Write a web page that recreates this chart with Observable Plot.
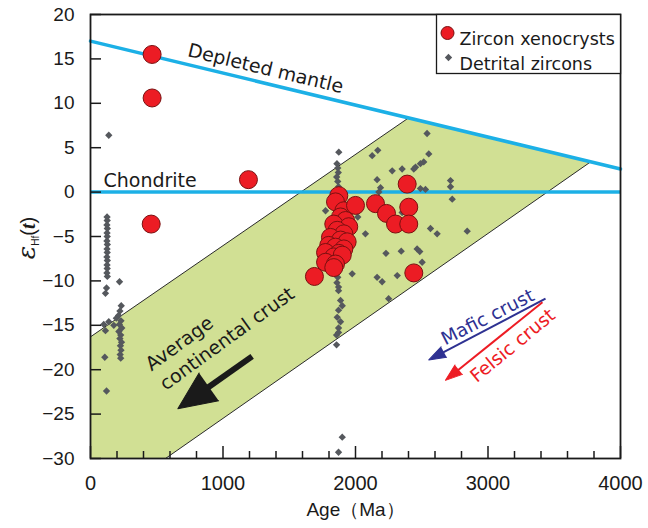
<!DOCTYPE html>
<html><head><meta charset="utf-8">
<script src="https://cdn.jsdelivr.net/npm/d3@7"></script>
<script src="https://cdn.jsdelivr.net/npm/@observablehq/plot@0.6"></script>
<style>
body{margin:0;background:#fff;}
#wrap{position:relative;width:648px;height:528px;}
#ylab{position:absolute;left:-23px;top:226px;width:100px;height:24px;line-height:24px;text-align:center;transform:rotate(-90deg);font-family:"Liberation Sans",Arial,sans-serif;font-size:20px;color:#1a1a1a;white-space:nowrap;}
#ylab .eps{font-family:"DejaVu Serif","Liberation Serif",serif;font-style:italic;font-size:25px;}
#ylab sub{font-size:10px;vertical-align:-4px;}
#ylab .t{font-family:"Liberation Serif",serif;font-style:italic;font-weight:bold;}
</style></head>
<body><div id="wrap"><div id="ylab"><span class="eps">ε</span><sub>Hf</sub>(<span class="t">t</span>)</div></div>
<script>
// ---- data ----
const xMajor = [0, 1000, 2000, 3000, 4000];
const xMinor = [200,400,600,800,1200,1400,1600,1800,2200,2400,2600,2800,3200,3400,3600,3800];
const yTicks = [-30,-25,-20,-15,-10,-5,0,5,10,15,20];
const xLabel = "Age（Ma）";

const dmAge = [0, 4000];
const dmEps = [17.0, 2.6];
const chondriteEps = [0];

const bandAge = [0, 2400, 3774, 566, 0];
const bandEps = [-16.3, 8.35, 3.4, -30, -30];
const bandUpperAge = [0, 2400];
const bandUpperEps = [-16.3, 8.35];
const bandLowerAge = [566, 3774];
const bandLowerEps = [-30, 3.4];

const xenoAge = [465,465,458,1192,1690,
  1874,1849,1912,1887,1925,1836,1949,1862,1912,1811,1887,1937,1798,1849,1912,1774,1874,1836,1900,1774,1849,1836,
  2000,2151,2234,2302,2402,2402,2390,2440];
const xenoEps = [15.5,10.6,-3.6,1.4,-9.5,
  -0.4,-1.1,-2.1,-2.8,-3.2,-3.6,-3.9,-4.3,-4.7,-5.1,-5.4,-5.6,-6.0,-6.2,-6.4,-6.8,-6.9,-7.3,-7.1,-7.9,-8.1,-8.5,
  -1.5,-1.3,-2.4,-3.6,-1.7,-3.6,0.9,-9.1];

const detAge = [138,125,126,124,127,125,126,124,127,125,126,124,127,125,126,124,127,219,121,113,
  232,222,212,195,230,218,236,214,228,222,234,226,230,224,228,138,113,176,100,108,121,
  1874,1860,1866,1870,1858,1866,1872,1862,1868,1860,1870,1858,1866,1856,1864,1860,1858,1866,1860,1872,1872,1887,1900,1872,1862,1887,1872,1872,1857,1857,1900,1872,
  1774,2017,2075,1975,2540,2553,2515,2490,2453,2440,2352,2277,2168,2126,2163,2189,2176,2490,2528,2717,2717,2730,2352,2566,2616,2843,2230,2345,2465,2485,2503,2163,2201,2315,2250];
const detEps = [6.4,-2.8,-3.2,-3.7,-4.1,-4.6,-5.0,-5.5,-5.9,-6.4,-6.8,-7.3,-7.7,-8.2,-8.6,-9.1,-9.5,-10.1,-10.8,-11.4,
  -12.8,-13.4,-13.9,-14.2,-14.5,-14.9,-15.3,-15.7,-16.1,-16.5,-16.9,-17.3,-17.8,-18.3,-18.7,-14.6,-15.6,-15.0,-14.9,-18.6,-22.4,
  4.5,3.2,2.7,2.2,1.7,1.2,0.6,0.1,-0.6,-1.6,-2.6,-3.8,-5.0,-6.2,-7.4,-8.4,-9.0,-9.6,-10.2,-10.7,-11.1,-12.2,-12.8,-13.3,-14.1,-14.6,-15.3,-15.8,-16.1,-17.2,-27.6,-29.3,
  -2.1,-2.8,-4.7,-9.2,6.6,4.3,3.4,3.2,2.8,2.6,2.6,2.4,4.7,4.1,1.4,0.5,0.0,0.4,0.3,1.3,0.6,-0.8,-2.3,-4.1,-4.7,-4.4,-6.9,-6.65,-6.4,-6.7,-7.9,-9.6,-10.1,-9.4,-12.0];

const legendLabels = ["Zircon xenocrysts", "Detrital zircons"];

const annoText = ["Depleted mantle", "Chondrite", "Average\ncontinental crust", "Mafic crust", "Felsic crust"];
const annoAge = [1321, 98, 480, 2998, 3187];
const annoEps = [13.9, 1.3, -20.6, -14.1, -17.3];

const arrowX1 = [1220, 3434, 3411];
const arrowY1 = [-18.5, -12.0, -12.4];
const arrowX2 = [659, 2553, 2679];
const arrowY2 = [-24.4, -18.9, -21.2];

// ---- layout / style ----
const W = 648, H = 528, ML = 90, MR = 28, MT = 14, MB = 70;
const innerW = W - ML - MR, innerH = H - MT - MB;
const kx = innerW / 4000, ky = innerH / 50;
const cyan = "#1cb0e6", bandFill = "#d1e094", ink = "#1a1a1a";
const redFill = "#ec1c24", redStroke = "#7a1010", gray = "#55585d";
const arrowColor = [ink, "#2e3192", "#ed1c24"];
const arrowHeadLen = [38, 17, 17];
const arrowHeadR = [17, 6, 6];
const arrowShaft = [6, 2, 2];
const labelFont = "DejaVu Sans";

const band = bandAge.map((x, i) => ({x, y: bandEps[i]}));
const bandUpper = bandUpperAge.map((x, i) => ({x, y: bandUpperEps[i]}));
const bandLower = bandLowerAge.map((x, i) => ({x, y: bandLowerEps[i]}));
const dm = dmAge.map((x, i) => ({x, y: dmEps[i]}));
const xeno = xenoAge.map((x, i) => ({x, y: xenoEps[i]}));
const det = detAge.map((x, i) => ({x, y: detEps[i]}));
const anno = annoText.map((t, i) => ({t, x: annoAge[i], y: annoEps[i]}));

const arrows = arrowX1.map((x1, i) => {
  const y1 = arrowY1[i], x2 = arrowX2[i], y2 = arrowY2[i];
  const dxp = (x2 - x1) * kx, dyp = -(y2 - y1) * ky;
  const len = Math.hypot(dxp, dyp), ux = dxp / len, uy = dyp / len;
  const L = arrowHeadLen[i] * 0.8;
  return {x1, y1, x2, y2,
    bx: x2 - ux * L / kx, by: y2 + uy * L / ky,
    rot: Math.atan2(dxp, -dyp) * 180 / Math.PI};
});

const arrowMarks = arrows.flatMap((a, i) => [
  Plot.link([a], {x1: d => d.x1, y1: d => d.y1, x2: d => d.bx, y2: d => d.by,
    stroke: arrowColor[i], strokeWidth: arrowShaft[i], strokeLinecap: "butt"}),
  Plot.vector([a], {x: d => d.x2, y: d => d.y2, rotate: d => d.rot, length: arrowHeadLen[i],
    r: arrowHeadR[i], shape: "spike", anchor: "end", fill: arrowColor[i], stroke: arrowColor[i], strokeWidth: 1})
]);

const txt = (i, opts) => Plot.text([anno[i]], {x: d => d.x, y: d => d.y, text: d => d.t,
  fontFamily: labelFont, fontSize: 19, fill: ink, ...opts});

const chart = Plot.plot({
  width: W, height: H,
  marginLeft: ML, marginRight: MR, marginTop: MT, marginBottom: MB,
  x: {domain: [0, 4000]},
  y: {domain: [-30, 20]},
  style: {fontFamily: "'Liberation Sans', Arial, sans-serif", fontSize: "19px", color: ink, background: "#fff", overflow: "visible"},
  marks: [
    Plot.line(band, {x: "x", y: "y", fill: bandFill, stroke: "none"}),
    Plot.line(bandUpper, {x: "x", y: "y", stroke: "#2a2a2a", strokeWidth: 1}),
    Plot.line(bandLower, {x: "x", y: "y", stroke: "#2a2a2a", strokeWidth: 1}),
    Plot.ruleY(chondriteEps, {y: d => d, stroke: cyan, strokeWidth: 3.5}),
    Plot.line(dm, {x: "x", y: "y", stroke: cyan, strokeWidth: 3.5}),
    txt(0, {rotate: 13.5}),
    txt(1, {textAnchor: "start"}),
    txt(2, {textAnchor: "start", rotate: -36, lineHeight: 1.27}),
    txt(3, {rotate: -27, fill: arrowColor[1], fontSize: 18.5}),
    txt(4, {rotate: -39.5, fill: arrowColor[2], fontSize: 18.5}),
    ...arrowMarks,
    Plot.dot(det, {x: "x", y: "y", symbol: "diamond2", r: 3.3, fill: gray, stroke: "none"}),
    Plot.dot(xeno, {x: "x", y: "y", r: 9, fill: redFill, stroke: redStroke, strokeWidth: 1}),
    Plot.tickX(xMajor, {x: d => d, insetTop: innerH - 12, stroke: ink, strokeWidth: 1.5}),
    Plot.tickX(xMinor, {x: d => d, insetTop: innerH - 7, stroke: ink, strokeWidth: 1.5}),
    Plot.tickY(yTicks, {y: d => d, insetRight: innerW - 11, stroke: ink, strokeWidth: 1.5}),
    Plot.axisX(xMajor, {tickSize: 0, tickPadding: 17, fontSize: 20, label: null, tickFormat: d3.format("d")}),
    Plot.axisY(yTicks, {tickSize: 0, tickPadding: 16, fontSize: 19, label: null}),
    Plot.text([xLabel], {frameAnchor: "bottom", dy: 57, text: d => d, fontSize: 19}),
    Plot.frame({stroke: ink, strokeWidth: 1.8}),
    // legend
    Plot.frame({insetLeft: 346, insetBottom: 385, stroke: ink, strokeWidth: 1.3, fill: "#fff"}),
    Plot.dot([legendLabels[0]], {frameAnchor: "top-left", dx: 357, dy: 18.5, r: 6.5, fill: redFill, stroke: redStroke, strokeWidth: 1}),
    Plot.dot([legendLabels[1]], {frameAnchor: "top-left", dx: 358, dy: 43, symbol: "diamond2", r: 3.3, fill: gray}),
    Plot.text([legendLabels[0]], {frameAnchor: "top-left", dx: 369, dy: 18.5, text: d => d, textAnchor: "start", fontFamily: labelFont, fontSize: 17.5, fill: ink}),
    Plot.text([legendLabels[1]], {frameAnchor: "top-left", dx: 369, dy: 43, text: d => d, textAnchor: "start", fontFamily: labelFont, fontSize: 17.5, fill: ink})
  ]
});
chart.style.position = "absolute";
chart.style.left = "0px";
chart.style.top = "0px";
const wrap = document.getElementById("wrap");
wrap.insertBefore(chart, wrap.firstChild);
</script>
</body></html>
